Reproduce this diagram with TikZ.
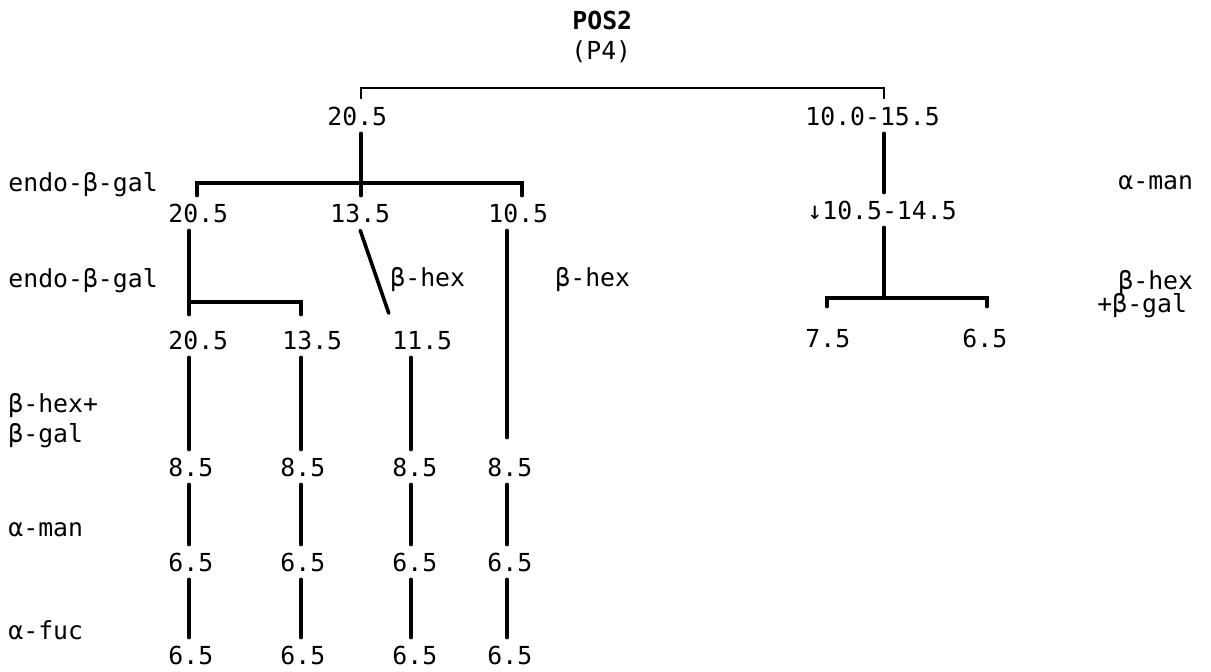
\documentclass[tikz,border=0pt]{standalone}
\usepackage{fontspec}
\setmonofont{DejaVu Sans Mono}
\tikzset{%
	val/.style={anchor=west, inner xsep=0mm, inner ysep=4pt, text height=9pt, text depth=0pt,%
		font=\ttfamily\fontsize{12.4}{14}\selectfont},
	enz/.style={val},
	headline/.style={val, font=\ttfamily\bfseries\fontsize{12.4}{14}\selectfont},
	link/.style={line width=1.8pt, line cap=round},
	bar/.style={line width=1pt}
}

\begin{document}
\begin{tikzpicture}[x=0.5pt, y=-0.5pt]
	\useasboundingbox (0,0) rectangle (1211,671);

	\node[headline] (pos) at (572,20) {POS2};
	\node[val] (p4) at (571,50) {(P4)};

	\node[val] (a1) at (327,116) {20.5};
	\node[val] (a2) at (805,116) {10.0-15.5};

	\node[val] (b1) at (168,213) {20.5};
	\node[val] (b2) at (330,213) {13.5};
	\node[val] (b3) at (488,213) {10.5};
	\node[val] (b4) at (807,210) {↓10.5-14.5};

	\node[val] (c1) at (168,340) {20.5};
	\node[val] (c2) at (282,340) {13.5};
	\node[val] (c3) at (392,340) {11.5};
	\node[val] (c5) at (805,338) {7.5};
	\node[val] (c6) at (962,338) {6.5};

	\node[val] (d1) at (168,467) {8.5};
	\node[val] (d2) at (280,467) {8.5};
	\node[val] (d3) at (392,467) {8.5};
	\node[val] (d4) at (487,467) {8.5};

	\node[val] (e1) at (168,562) {6.5};
	\node[val] (e2) at (280,562) {6.5};
	\node[val] (e3) at (392,562) {6.5};
	\node[val] (e4) at (487,562) {6.5};

	\node[val] (f1) at (168,655) {6.5};
	\node[val] (f2) at (280,655) {6.5};
	\node[val] (f3) at (392,655) {6.5};
	\node[val] (f4) at (487,655) {6.5};

	\node[enz] (endo1) at (8,182) {endo-β-gal};
	\node[enz] (endo2) at (8,278) {endo-β-gal};
	\node[enz] (hex1) at (390,277) {β-hex};
	\node[enz] (hex2) at (555,277) {β-hex};
	\node[enz] (hexgal1) at (8,403) {β-hex+};
	\node[enz] (hexgal2) at (8,433) {β-gal};
	\node[enz] (man1) at (8,527) {α-man};
	\node[enz] (fuc) at (8,630) {α-fuc};
	\node[enz] (man2) at (1118,180) {α-man};
	\node[enz] (hex3) at (1118,280) {β-hex};
	\node[enz] (hexgal3) at (1097,303) {+β-gal};

	\coordinate (k1) at (189,0);
	\coordinate (k2) at (301,0);
	\coordinate (k3) at (411,0);
	\coordinate (k4) at (507,0);
	\coordinate (kt) at (361,88);
	\coordinate (kr) at (884,88);
	\coordinate (jl) at (197,183);
	\coordinate (jr) at (522,183);
	\coordinate (sl) at (301,302);
	\coordinate (ql) at (827,298);
	\coordinate (qr) at (987,298);

	\draw[bar] (a1.north -| kt) -- (kt) -- (kr) -- (a2.north -| kr);
	\draw[link] (a1.south -| kt) -- (b2.north -| kt);
	\draw[link] (a2.south -| kr) -- (b4.north -| kr);
	\draw[link] (b1.north -| jl) -- (jl) -- (jr) -- (b3.north -| jr);

	\draw[link, shorten >=4pt] (b1.south -| k1) -- (c1.north -| k1);
	\draw[link, shorten >=4pt] (k1 |- sl) -- (sl) -- (c2.north -| sl);
	\draw[link, shorten >=5pt] (b2.south) -- (c3.north west);
	\draw[link, shorten >=6pt] (b3.south -| k4) -- (d4.north -| k4);
	\draw[link] (b4.south -| kr) -- (kr |- ql);
	\draw[link, shorten <=7pt, shorten >=7pt] (c5.north -| ql) -- (ql) -- (qr) -- (c6.north -| qr);

	\draw[link] (c1.south -| k1) -- (d1.north -| k1);
	\draw[link] (c2.south -| k2) -- (d2.north -| k2);
	\draw[link] (c3.south -| k3) -- (d3.north -| k3);

	\draw[link] (d1.south -| k1) -- (e1.north -| k1);
	\draw[link] (d2.south -| k2) -- (e2.north -| k2);
	\draw[link] (d3.south -| k3) -- (e3.north -| k3);
	\draw[link] (d4.south -| k4) -- (e4.north -| k4);

	\draw[link] (e1.south -| k1) -- (f1.north -| k1);
	\draw[link] (e2.south -| k2) -- (f2.north -| k2);
	\draw[link] (e3.south -| k3) -- (f3.north -| k3);
	\draw[link] (e4.south -| k4) -- (f4.north -| k4);
\end{tikzpicture}
\end{document}
